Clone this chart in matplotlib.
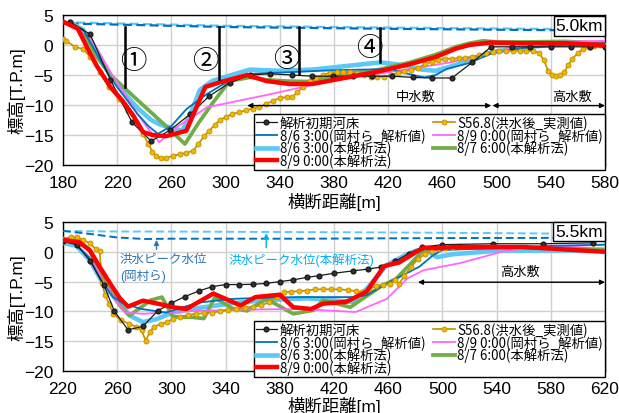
import matplotlib
matplotlib.use("Agg")
import matplotlib.pyplot as plt

plt.rcParams["font.family"] = ["Liberation Sans", "Noto Sans CJK JP", "DejaVu Sans"]

# ---------------- 5.0km cross section ----------------
bed0_x_50 = [185, 200, 215, 231, 245, 259, 274, 288, 303, 318, 333, 349, 364, 379, 394, 408, 423, 438, 452,
             467, 482, 496, 511, 525, 540, 555, 569, 580]
bed0_y_50 = [3.8, 1.8, -5.8, -12.9, -16.0, -14.2, -11.5, -8.5, -6.3, -5.0, -4.8, -5.0, -5.2, -5.2, -5.2, -5.2,
             -5.2, -5.4, -5.5, -5.5, -2.9, -0.3, -0.3, -0.3, -0.3, -0.3, -0.3, -0.3]

s56_x_50 = [180, 182, 189, 195, 200, 207, 214, 221, 228, 234, 239, 243, 246, 249, 252, 256, 261, 266, 271, 276,
            280, 284, 288, 292, 296, 300, 305, 310, 315, 320, 325, 330, 335, 340, 345, 349, 353, 357, 362, 367,
            372, 377, 382, 387, 392, 397, 402, 407, 412, 417, 422, 427, 432, 437, 442, 447, 452, 457, 462, 467,
            472, 477, 482, 487, 492, 497, 502, 507, 512, 517, 522, 527, 531, 535, 538, 541, 544, 547, 550, 553,
            556, 560, 564, 568, 572, 576, 580]
s56_y_50 = [1.0, 0.7, -0.3, -0.7, -2.0, -4.5, -7.0, -9.0, -11.0, -12.8, -14.8, -16.5, -17.8, -18.5, -18.8, -18.8,
            -18.5, -18.2, -18.0, -17.6, -16.5, -15.2, -14.3, -13.3, -12.5, -12.0, -11.5, -11.2, -10.9, -10.6,
            -10.3, -9.8, -9.3, -8.8, -8.7, -8.7, -7.9, -7.0, -6.0, -5.5, -5.0, -4.6, -4.5, -4.5, -4.5, -4.6,
            -5.0, -5.3, -5.3, -5.3, -5.0, -4.6, -4.3, -4.2, -3.8, -3.2, -2.8, -2.5, -2.3, -2.3, -2.2, -2.1,
            -2.0, -1.7, -1.3, -1.1, -1.0, -1.0, -1.0, -1.0, -1.0, -1.0, -1.3, -2.5, -4.3, -5.0, -5.2, -5.0,
            -4.5, -3.3, -2.3, -1.3, -0.7, -0.3, -0.1, 0.0, 0.0]

oka86_x_50 = [185, 195, 205, 215, 225, 235, 243, 250, 260, 271, 286, 300, 318, 340, 360, 380, 400, 422, 431,
              440, 447, 455, 463, 480, 497, 520, 550, 580]
oka86_y_50 = [3.8, 2.5, -1.5, -5.5, -8.5, -11.5, -13.5, -14.8, -13.5, -10.7, -8.2, -6.3, -4.8, -4.6, -4.4, -4.2,
              -4.1, -4.0, -4.6, -5.1, -5.4, -5.0, -4.0, -3.0, -1.3, -0.5, 0.0, 0.3]

oka89_x_50 = [185, 200, 205, 215, 225, 235, 243, 251, 265, 281, 286, 318, 333, 367, 400, 430, 466, 495, 520,
              539, 580]
oka89_y_50 = [3.8, 1.3, -0.5, -4.5, -8.0, -11.5, -14.0, -16.2, -13.5, -11.2, -10.4, -8.9, -8.2, -6.5, -5.2,
              -4.2, -2.9, -1.2, -0.2, 0.5, 0.7]

new86_x_50 = [185, 195, 205, 215, 225, 235, 245, 252, 260, 268, 275, 281, 290, 303, 318, 340, 364, 385, 414,
              432, 445, 455, 466, 480, 497, 515, 540, 580]
new86_y_50 = [3.8, 2.5, -1.5, -5.0, -8.0, -10.5, -12.5, -13.3, -13.8, -14.3, -11.0, -7.5, -6.0, -5.1, -4.1,
              -4.3, -4.1, -3.6, -2.9, -3.4, -4.1, -4.3, -3.6, -2.5, -1.2, -0.5, 0.0, 0.3]

new87_x_50 = [185, 195, 205, 215, 226, 240, 255, 270, 280, 291, 303, 318, 330, 345, 362, 385, 411, 436, 455,
              470, 480, 490, 500, 520, 550, 580]
new87_y_50 = [3.8, 2.3, -2.0, -5.0, -7.3, -10.2, -13.3, -16.5, -13.0, -9.5, -6.0, -5.4, -5.8, -6.0, -6.1, -4.9,
              -4.2, -2.9, -1.6, -0.3, 0.3, 0.7, 0.5, 0.5, 0.6, 0.3]

new89_x_50 = [180, 191, 198, 205, 215, 224, 232, 239, 246, 256, 271, 285, 296, 316, 330, 347, 364, 385, 411,
              436, 455, 470, 480, 495, 520, 550, 580]
new89_y_50 = [3.9, 2.7, -0.5, -3.5, -7.0, -9.3, -11.8, -14.5, -15.0, -15.2, -14.3, -7.0, -6.2, -5.0, -6.0,
              -6.5, -6.5, -5.6, -4.5, -3.2, -2.0, -0.6, 0.0, 0.4, 0.3, 0.3, 0.0]

peak_x_50 = [180, 300, 420, 580]
peak_new_y_50 = [3.8, 3.2, 2.9, 2.6]
peak_oka_y_50 = [3.6, 3.0, 2.7, 2.4]

# section markers (1)-(4): position, upper end, lower end
sec_x = [226, 295, 354, 414]
sec_top = [3.0, 3.0, 3.0, 2.9]
sec_bot = [-7.0, -5.7, -4.8, -2.9]
sec_labels = ["①", "②", "③", "④"]
sec_label_x = [232, 285, 345, 406]
sec_label_y = [-2.6, -2.6, -2.3, -0.5]

# ---------------- 5.5km cross section ----------------
bed0_x_55 = [220, 230, 240, 250, 258, 268, 279, 290, 300, 310, 320, 330, 340, 350, 360, 370, 380, 390, 400,
             409, 420, 434, 445, 455, 465, 475, 485, 500, 537, 574, 611]
bed0_y_55 = [1.8, 1.2, -1.5, -5.5, -10.0, -13.1, -12.5, -9.9, -8.6, -7.5, -6.6, -5.85, -5.5, -5.5, -5.45,
             -5.3, -5.0, -4.7, -4.3, -4.0, -3.6, -3.2, -2.9, -2.55, -1.6, -0.3, 0.8, 1.2, 1.35, 1.35, 1.5]

s56_x_55 = [220, 226, 230, 235, 240, 244, 247, 249, 251, 254, 257, 263, 269, 274, 278, 281, 284, 287, 292,
            297, 301, 306, 312, 318, 324, 330, 336, 342, 348, 354, 360, 366, 372, 378, 383, 388, 394, 400, 406,
            412, 418, 424, 430, 436, 441, 446, 451, 456, 461, 465, 468, 472, 477, 482, 487, 492, 497, 502, 507,
            513]
s56_y_55 = [2.2, 2.5, 2.4, 2.0, 1.4, 0.5, 0.2, -5.3, -7.3, -8.7, -10.4, -11.5, -12.1, -12.6, -13.2, -14.9,
            -13.5, -12.6, -12.1, -11.8, -11.2, -10.9, -10.6, -10.4, -10.3, -10.2, -10.0, -9.8, -9.6, -9.4, -9.2,
            -9.0, -8.5, -7.5, -6.8, -6.7, -6.6, -6.5, -6.3, -6.3, -6.3, -6.3, -6.4, -6.6, -6.8, -6.3, -5.7,
            -5.5, -5.4, -4.8, -5.4, -4.0, -2.5, -1.2, -0.4, 0.2, 0.5, 0.6, 0.8, 1.0]

oka86_x_55 = [220, 229, 239, 248, 257, 265, 278, 296, 310, 321, 345, 370, 395, 434, 444, 460, 483, 493, 500,
              510, 540, 580, 620]
oka86_y_55 = [1.8, 1.3, -0.9, -4.8, -7.6, -8.7, -9.6, -10.2, -9.2, -8.5, -7.9, -7.7, -7.6, -7.6, -7.3, -5.2,
              -2.5, -0.6, 0.3, 0.4, 0.6, 1.0, 1.2]

oka89_x_55 = [220, 230, 240, 250, 260, 266, 279, 300, 321, 350, 395, 436, 459, 474, 486, 513, 547, 567, 620]
oka89_y_55 = [1.9, 1.2, -1.0, -5.0, -8.5, -10.2, -10.4, -10.1, -9.9, -9.7, -9.6, -10.1, -7.9, -4.5, -3.1,
              -1.9, 0.2, 0.7, 1.2]

new86_x_55 = [220, 230, 240, 250, 262, 270, 279, 289, 301, 321, 346, 370, 400, 434, 445, 459, 474, 481, 488,
              496, 508, 542, 580, 620]
new86_y_55 = [1.5, 1.0, -1.5, -5.5, -8.8, -10.8, -11.8, -11.3, -10.2, -9.4, -8.6, -8.1, -7.8, -8.4, -6.0,
              -2.2, -0.4, 0.2, 0.25, -0.9, -0.4, 0.2, 0.2, 0.25]

new87_x_55 = [220, 231, 239, 251, 263, 269, 285, 293, 301, 316, 324, 332, 345, 356, 370, 390, 405, 412, 432,
              454, 466, 486, 496, 540, 580, 620]
new87_y_55 = [2.0, 1.9, 0.5, -5.3, -9.3, -10.7, -8.1, -7.6, -10.9, -11.0, -11.2, -7.7, -9.5, -9.9, -7.9,
              -10.4, -9.8, -8.1, -9.3, -5.9, -4.5, 0.25, 0.5, 0.7, 0.6, 0.4]

new89_x_55 = [220, 232, 240, 247, 255, 262, 268, 279, 292, 301, 311, 331, 351, 362, 380, 390, 403, 412, 429,
              444, 457, 468, 486, 496, 508, 560, 590, 620]
new89_y_55 = [2.0, 1.6, 0.2, -2.5, -5.4, -7.8, -9.2, -8.2, -8.8, -9.3, -9.6, -7.0, -9.0, -7.6, -7.2, -9.3,
              -9.6, -8.7, -8.4, -6.7, -2.4, -1.8, 0.7, 0.6, 0.8, 0.8, 0.4, 0.0]

peak_x_55 = [220, 240, 260, 280, 300, 400, 500, 620]
peak_new_y_55 = [3.5, 3.45, 3.4, 3.4, 3.4, 3.3, 3.2, 3.0]
peak_oka_y_55 = [3.5, 3.0, 2.4, 2.15, 2.2, 2.2, 2.3, 2.35]

labels = ["解析初期河床", "S56.8(洪水後_実測値)", "8/6 3:00(岡村ら_解析値)", "8/9 0:00(岡村ら_解析値)",
          "8/6 3:00(本解析法)", "8/7 6:00(本解析法)", "8/9 0:00(本解析法)"]

C_BLACK = "#1a1a1a"
C_ORANGE_LINE = "#C09000"
C_ORANGE_FACE = "#F2B800"
C_BLUE = "#0070C0"
C_PINK = "#FF66FF"
C_LBLUE = "#5CC8F8"
C_GREEN = "#70AD47"
C_RED = "#FF0000"

fig = plt.figure(figsize=(6.19, 4.14), dpi=100)
W, H = 619.0, 414.0
ax1 = fig.add_axes([63 / W, 1 - 166 / H, 542 / W, 150 / H])
ax2 = fig.add_axes([63 / W, 1 - 372 / H, 542 / W, 149 / H])


def draw_section(ax, d):
    h = {}
    h["new86"], = ax.plot(d["new86"][0], d["new86"][1], color=C_LBLUE, lw=3.3, zorder=3, label=labels[4])
    h["new87"], = ax.plot(d["new87"][0], d["new87"][1], color=C_GREEN, lw=2.7, zorder=3.2, label=labels[5])
    h["oka89"], = ax.plot(d["oka89"][0], d["oka89"][1], color=C_PINK, lw=1.3, zorder=3.4, label=labels[3])
    h["oka86"], = ax.plot(d["oka86"][0], d["oka86"][1], color=C_BLUE, lw=1.3, zorder=3.6, label=labels[2])
    h["s56"], = ax.plot(d["s56"][0], d["s56"][1], color=C_ORANGE_LINE, lw=1.2, marker="o", ms=3.6,
                        mfc=C_ORANGE_FACE, mec=C_ORANGE_LINE, mew=0.6, zorder=3.8, label=labels[1])
    h["bed0"], = ax.plot(d["bed0"][0], d["bed0"][1], color=C_BLACK, lw=0.9, marker="o", ms=3.4,
                         mfc="#333333", mec="#1a1a1a", zorder=4, label=labels[0])
    h["new89"], = ax.plot(d["new89"][0], d["new89"][1], color=C_RED, lw=3.2, zorder=4.5, label=labels[6])
    return h


def style(ax, xlim, xticks, xlabel_y):
    ax.set_xlim(*xlim)
    ax.set_ylim(-20, 5)
    ax.set_xticks(xticks)
    ax.set_yticks([-20, -15, -10, -5, 0, 5])
    ax.grid(True, color="#D0D0D0", lw=1.0)
    ax.set_axisbelow(True)
    ax.tick_params(length=0, labelsize=12.5, pad=7)
    for s in ax.spines.values():
        s.set_color("black")
        s.set_linewidth(1.0)
    ax.set_xlabel("横断距離[m]", fontsize=12.5)
    ax.xaxis.set_label_coords(0.5, xlabel_y)
    ax.set_ylabel("標高[T.P.m]", fontsize=12.5)
    ax.yaxis.set_label_coords(-0.07, 0.5)


d50 = {"bed0": (bed0_x_50, bed0_y_50), "s56": (s56_x_50, s56_y_50), "oka86": (oka86_x_50, oka86_y_50),
       "oka89": (oka89_x_50, oka89_y_50), "new86": (new86_x_50, new86_y_50), "new87": (new87_x_50, new87_y_50),
       "new89": (new89_x_50, new89_y_50)}
d55 = {"bed0": (bed0_x_55, bed0_y_55), "s56": (s56_x_55, s56_y_55), "oka86": (oka86_x_55, oka86_y_55),
       "oka89": (oka89_x_55, oka89_y_55), "new86": (new86_x_55, new86_y_55), "new87": (new87_x_55, new87_y_55),
       "new89": (new89_x_55, new89_y_55)}

# peak water levels (dashed)
ax1.plot(peak_x_50, peak_new_y_50, color=C_LBLUE, lw=1.6, ls=(0, (4, 2)), zorder=2.5)
ax1.plot(peak_x_50, peak_oka_y_50, color=C_BLUE, lw=1.6, ls=(3, (4, 2)), zorder=2.6)
ax2.plot(peak_x_55, peak_new_y_55, color=C_LBLUE, lw=1.4, ls=(0, (4, 2)), zorder=2.5)
ax2.plot(peak_x_55, peak_oka_y_55, color=C_BLUE, lw=1.4, ls=(0, (4, 2)), zorder=2.6)

h1 = draw_section(ax1, d50)
h2 = draw_section(ax2, d55)

style(ax1, (180, 580), range(180, 581, 40), -0.18)
style(ax2, (220, 620), range(220, 621, 40), -0.165)

# section markers
for x, yt, yb in zip(sec_x, sec_top, sec_bot):
    ax1.plot([x, x], [yt, yb], color="black", lw=1.8, zorder=5)
for t, x, y in zip(sec_labels, sec_label_x, sec_label_y):
    ax1.text(x, y, t, fontsize=19, ha="center", va="center", zorder=6, family="Noto Sans CJK JP")

# km labels
for ax, t, yc in [(ax1, "5.0km", 0.927), (ax2, "5.5km", 0.936)]:
    ax.text(0.9965, yc, t, transform=ax.transAxes, ha="right", va="center", fontsize=12.5, zorder=10,
            bbox=dict(boxstyle="square,pad=0.12", fc="white", ec="black", lw=1.0))

arrow = dict(arrowstyle="<|-|>", color="black", lw=1.0, mutation_scale=7, shrinkA=0, shrinkB=0)
ax1.annotate("", xy=(316, -10.1), xytext=(496, -10.1), arrowprops=arrow, zorder=5)
ax1.annotate("", xy=(497, -10.1), xytext=(580, -10.1), arrowprops=arrow, zorder=5)
ax1.text(440, -8.6, "中水敷", fontsize=9.5, ha="center", va="center")
ax1.text(556, -8.6, "高水敷", fontsize=9.5, ha="center", va="center")

ax2.annotate("", xy=(482, -5.1), xytext=(620, -5.1), arrowprops=arrow, zorder=5)
ax2.text(557, -3.3, "高水敷", fontsize=9.5, ha="center", va="center")

# peak water level notes
C_TXT_DARK = "#2E75B6"
C_TXT_LIGHT = "#00B0F0"
ax2.annotate("", xy=(289, 2.0), xytext=(289, 0.4),
             arrowprops=dict(arrowstyle="-|>", color=C_TXT_DARK, lw=1.0, mutation_scale=7, shrinkA=0, shrinkB=0))
ax2.annotate("", xy=(370, 3.1), xytext=(370, 0.7),
             arrowprops=dict(arrowstyle="-|>", color=C_TXT_LIGHT, lw=1.0, mutation_scale=7, shrinkA=0, shrinkB=0))
ax2.text(262, -1.2, "洪水ピーク水位", color=C_TXT_DARK, fontsize=9, ha="left", va="center")
ax2.text(262, -4.0, "(岡村ら)", color=C_TXT_DARK, fontsize=9, ha="left", va="center")
ax2.text(342, -1.2, "洪水ピーク水位(本解析法)", color=C_TXT_LIGHT, fontsize=9, ha="left", va="center")

order = ["bed0", "oka86", "new86", "new89", "s56", "oka89", "new87"]
for ax, h, yb in [(ax1, h1, 1 - 171 / H), (ax2, h2, 1 - 378 / H)]:
    leg = ax.legend([h[k] for k in order], [h[k].get_label() for k in order], ncol=2, loc="lower right",
                    bbox_to_anchor=(605 / W, yb), bbox_transform=fig.transFigure,
                    prop={"family": ["Noto Sans CJK JP", "DejaVu Sans"], "size": 9.6},
                    frameon=True, fancybox=False, edgecolor="black", framealpha=1, borderpad=0.15,
                    labelspacing=-0.16, handlelength=1.6, handletextpad=0.2, columnspacing=0.6,
                    borderaxespad=0)
    leg.get_frame().set_linewidth(1.0)
    leg.set_zorder(20)

fig.savefig("out.png", dpi=100)
